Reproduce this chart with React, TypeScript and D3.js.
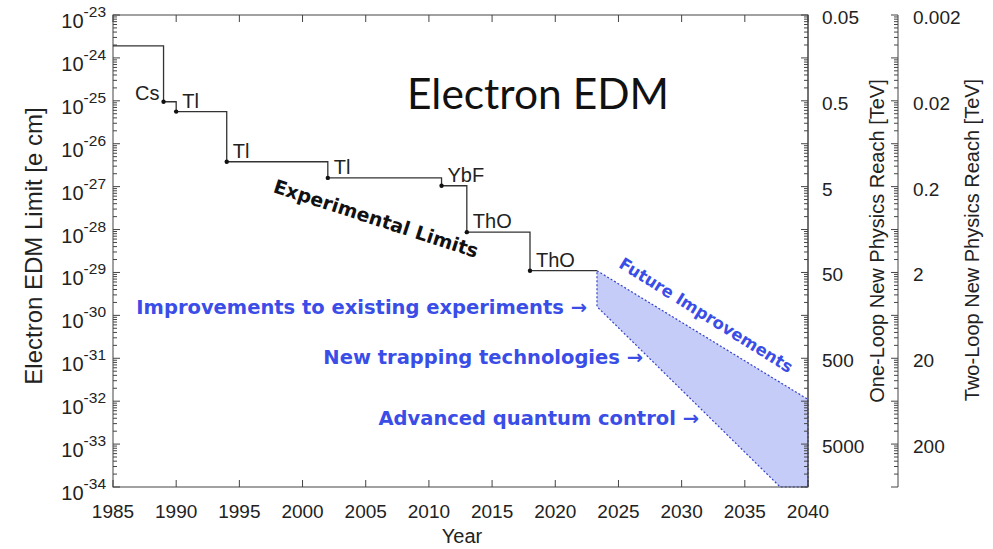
import React from 'react';
import * as d3 from 'd3';

// ---------- data ----------
const startYear = 1985;
const startLimit = 1.9e-24;
const expYears = [1989, 1990, 1994, 2002, 2011, 2013, 2018];
const expLimits = [9.5e-26, 5.6e-26, 3.8e-27, 1.6e-27, 1.05e-27, 8.7e-29, 1.1e-29];
const expNames = ['Cs', 'Tl', 'Tl', 'Tl', 'YbF', 'ThO', 'ThO'];
const endYear = 2023.3;

const futureYears = [2023.3, 2040, 2040, 2037.8, 2023.3];
const futureLimits = [1.1e-29, 1.1e-32, 1e-34, 1e-34, 1.6e-30];

const yearTicks = d3.range(1985, 2041, 5);
const edmExponents = d3.range(-23, -35, -1);
const oneLoopTicks = ['0.05', '0.5', '5', '50', '500', '5000'];
const twoLoopTicks = ['0.002', '0.02', '0.2', '2', '20', '200'];
const futureLabels = [
  'Improvements to existing experiments \u2192',
  'New trapping technologies \u2192',
  'Advanced quantum control \u2192',
];

// ---------- layout ----------
const W = 993, H = 549;
const L = 113, R = 808, T = 15, B = 487;
const AX2 = 898;
const FONT = '"Liberation Sans", Arial, Helvetica, sans-serif';
const BOLD = '"DejaVu Sans", Verdana, sans-serif';
const BLUE = '#3a4de6';

export default function App() {
  const x = d3.scaleLinear().domain([1985, 2040]).range([L, R]);
  const y = d3.scaleLog().domain([1e-23, 1e-34]).range([T, B]);
  const yOne = d3.scaleLog().domain([0.05, 0.05 * Math.pow(10, 5.5)]).range([T, B]);
  const yTwo = d3.scaleLog().domain([0.002, 0.002 * Math.pow(10, 5.5)]).range([T, B]);

  const majors = edmExponents.map((e) => Math.pow(10, e));
  const minors: number[] = [];
  edmExponents.slice(1).forEach((e) => {
    for (let m = 2; m <= 9; m++) minors.push(m * Math.pow(10, e));
  });

  const stepPts: [number, number][] = [[startYear, startLimit]];
  expYears.forEach((yr, i) => stepPts.push([yr, expLimits[i]]));
  stepPts.push([endYear, expLimits[expLimits.length - 1]]);
  const stepLine = d3
    .line<[number, number]>()
    .x((d) => x(d[0]))
    .y((d) => y(d[1]))
    .curve(d3.curveStepAfter)(stepPts) as string;

  const futPts: [number, number][] = futureYears.map((yr, i) => [yr, futureLimits[i]]);
  const futPath =
    (d3
      .line<[number, number]>()
      .x((d) => x(d[0]))
      .y((d) => y(d[1]))(futPts) as string) + 'Z';

  const axisColor = '#444';

  const rightTicks = (x0: number) => (
    <g stroke={axisColor} strokeWidth={1}>
      <line x1={x0} x2={x0} y1={T} y2={B} />
      {majors.map((v, i) => (
        <line key={'M' + i} x1={x0} x2={x0 - 7} y1={y(v)} y2={y(v)} />
      ))}
      {minors.map((v, i) => (
        <line key={'m' + i} x1={x0} x2={x0 - 4} y1={y(v)} y2={y(v)} />
      ))}
    </g>
  );

  return (
    <svg
      width={W}
      height={H}
      style={{ position: 'absolute', left: 0, top: 0, background: '#fff' }}
      fontFamily={FONT}
    >
      {/* future region */}
      <path d={futPath} fill="#c6ccf8" stroke="#3444c8" strokeWidth={1.2} strokeDasharray="2,2" />

      {/* frame */}
      <rect x={L} y={T} width={R - L} height={B - T} fill="none" stroke={axisColor} strokeWidth={1} />

      {/* left axis ticks */}
      <g stroke={axisColor} strokeWidth={1}>
        {majors.map((v, i) => (
          <line key={'M' + i} x1={L} x2={L + 7} y1={y(v)} y2={y(v)} />
        ))}
        {minors.map((v, i) => (
          <line key={'m' + i} x1={L} x2={L + 4} y1={y(v)} y2={y(v)} />
        ))}
      </g>
      {/* right axes */}
      {rightTicks(R)}
      {rightTicks(AX2)}

      {/* x ticks top & bottom */}
      <g stroke={axisColor} strokeWidth={1}>
        {yearTicks.map((t) => (
          <g key={t}>
            <line x1={x(t)} x2={x(t)} y1={B} y2={B - 7} />
            <line x1={x(t)} x2={x(t)} y1={T} y2={T + 7} />
          </g>
        ))}
      </g>

      {/* left tick labels */}
      <g fill="#222" fontSize={20} textAnchor="end">
        {edmExponents.map((e) => (
          <text key={e} x={L - 7} y={y(Math.pow(10, e)) + 13}>
            10
            <tspan fontSize={15.5} dy={-11}>
              {String(e)}
            </tspan>
          </text>
        ))}
      </g>

      {/* x tick labels */}
      <g fill="#222" fontSize={19} textAnchor="middle">
        {yearTicks.map((t) => (
          <text key={t} x={x(t)} y={518}>
            {t}
          </text>
        ))}
      </g>

      {/* right tick labels */}
      <g fill="#222" fontSize={19}>
        {oneLoopTicks.map((t) => (
          <text key={t} x={R + 14} y={yOne(+t) + 9}>
            {t}
          </text>
        ))}
        {twoLoopTicks.map((t) => (
          <text key={t} x={AX2 + 15} y={yTwo(+t) + 9}>
            {t}
          </text>
        ))}
      </g>

      {/* axis titles */}
      <text x={462} y={543} fontSize={20} textAnchor="middle" fill="#222">
        Year
      </text>
      <text transform="translate(42,246) rotate(-90)" fontSize={24} textAnchor="middle" fill="#222">
        Electron EDM Limit [e cm]
      </text>
      <text transform="translate(884,241) rotate(-90)" fontSize={20} textAnchor="middle" fill="#222">
        One-Loop New Physics Reach [TeV]
      </text>
      <text transform="translate(979,240) rotate(-90)" fontSize={20} textAnchor="middle" fill="#222">
        Two-Loop New Physics Reach [TeV]
      </text>

      {/* step line */}
      <path d={stepLine} fill="none" stroke="#333" strokeWidth={1.3} />
      {expYears.map((yr, i) => (
        <circle key={i} cx={x(yr)} cy={y(expLimits[i])} r={2.2} fill="#111" />
      ))}
      {expNames.map((n, i) =>
        i === 0 ? (
          <text key={i} x={x(expYears[i]) - 4} y={y(expLimits[i]) - 2} fontSize={20} textAnchor="end" fill="#222">
            {n}
          </text>
        ) : (
          <text key={i} x={x(expYears[i]) + 6} y={y(expLimits[i]) - 4} fontSize={20} fill="#222">
            {n}
          </text>
        )
      )}

      {/* title */}
      <text x={407} y={109} fontSize={42.5} fontFamily="Lato, 'Open Sans', sans-serif" fill="#111">
        Electron EDM
      </text>

      {/* annotations */}
      <text
        transform="translate(374,225) rotate(18)"
        fontFamily={BOLD}
        fontWeight="bold"
        fontSize={19}
        textAnchor="middle"
        fill="#111"
      >
        Experimental Limits
      </text>
      <text
        transform="translate(703,320) rotate(32)"
        fontFamily={BOLD}
        fontWeight="bold"
        fontSize={16.5}
        textAnchor="middle"
        fill={BLUE}
      >
        Future Improvements
      </text>
      <g fontFamily={BOLD} fontWeight="bold" fill={BLUE} textAnchor="end" fontSize={19.5}>
        <text x={587} y={314}>{futureLabels[0]}</text>
        <text x={643} y={364}>{futureLabels[1]}</text>
        <text x={699} y={425}>{futureLabels[2]}</text>
      </g>
    </svg>
  );
}
